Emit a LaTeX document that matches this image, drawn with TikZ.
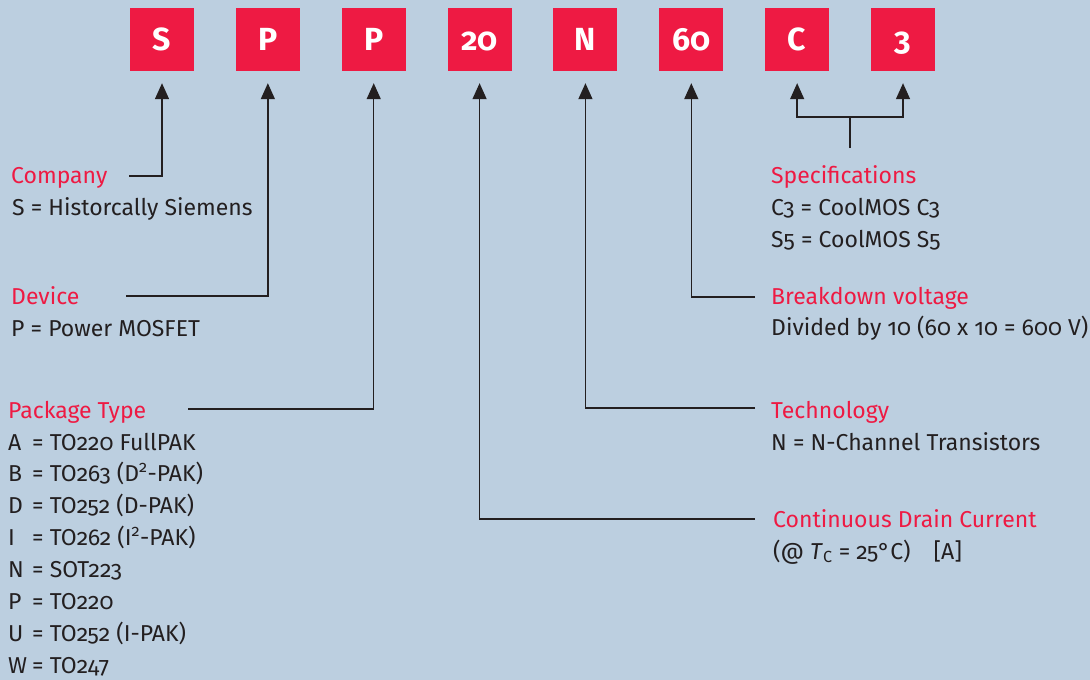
\documentclass[tikz,border=0pt]{standalone}
\usepackage{fontspec}
\setmainfont{Fira Sans}[Numbers=OldStyle]
\usepackage{xcolor}
\usetikzlibrary{calc,arrows.meta}
\definecolor{panel}{HTML}{BCCFE0}
\definecolor{infred}{HTML}{EE1A43}
\definecolor{ink}{HTML}{231F20}
\newcommand{\kcode}[1]{\makebox[24pt][l]{#1}}
\tikzset{
  letterbox/.style={fill=infred, text=white, minimum width=64pt, minimum height=63pt,
                    inner sep=0pt, text height=22.7pt, text depth=0pt,
                    font=\fontsize{32}{32}\selectfont\bfseries},
  head/.style={anchor=base west, inner sep=0pt, text=infred, font=\fontsize{23}{32}\selectfont},
  entry/.style={anchor=base west, inner sep=0pt, text=ink, font=\fontsize{23}{32}\selectfont},
  lead/.style={draw=ink, line width=1.5pt},
  pin/.style={lead, -{Triangle[length=16pt,width=14pt]}, shorten >=12pt}
}
\begin{document}
\begin{tikzpicture}[x=1pt, y=-1pt]
\fill[panel] (0,0) rectangle (1090,680);
\useasboundingbox (0,0) rectangle (1090,680);
\foreach \k/\t in {1/S,2/P,3/P,4/20,5/N,6/60,7/C,8/3}
  \node[letterbox] (b\k) at (162+105.86*\k-105.86, 39.5) {\t};
%\foreach \k in {1,...,8} \draw[red] (b\k.south) -- ++(0,20);

% left column
\node[head] (company) at (11,183) {Company};
\node[entry] (company-txt) at (12,215) {S = Historcally Siemens};
\node[head] (device) at (11,304) {Device};
\node[entry] (device-txt) at (11,336) {P = Power MOSFET};
\node[head] (package) at (8,418) {Package Type};
\foreach \k/\t in {0/{\kcode{A}= TO220 FullPAK},
                   1/{\kcode{B}= TO263 (D\textsuperscript{2}-PAK)},
                   2/{\kcode{D}= TO252 (D-PAK)},
                   3/{\kcode{I}= TO262 (I\textsuperscript{2}-PAK)},
                   4/{\kcode{N}= SOT223},
                   5/{\kcode{P}= TO220},
                   6/{\kcode{U}= TO252 (I-PAK)},
                   7/{\kcode{W}= TO247}}
  \node[entry] (package-\k) at (8,450+31.9*\k) {\t};

% right column
\node[head] (spec) at (771,183) {Specifications};
\node[entry] (spec-c) at (771,215) {C3 = CoolMOS C3};
\node[entry] (spec-s) at (771,247) {S5 = CoolMOS S5};
\node[head] (breakdown) at (771,304) {Breakdown voltage};
\node[entry] (breakdown-txt) at (771,335) {Divided by 10 (60 x 10 = 600 V)};
\node[head] (techno) at (771,418) {Technology};
\node[entry] (techno-txt) at (771,450) {N = N-Channel Transistors};
\node[head] (current) at (773,527) {Continuous Drain Current};
\node[entry] (current-txt) at (773,559) {(@ \textit{T}\textsubscript{C} = 25°C)\quad[A]};

% leads
\coordinate (company-lead) at (129,176);
\coordinate (device-lead) at (126,296);
\coordinate (package-lead) at (188,409);
\coordinate (current-lead) at (755,519);
\coordinate (techno-lead) at (755,408);
\coordinate (breakdown-lead) at (755,297);
\coordinate (spec-lead) at (850,148);
\coordinate (spec-fork) at (850,117);
\draw[pin] (company-lead) -| (b1);
\draw[pin] (device-lead) -| (b2);
\draw[pin] (package-lead) -| (b3);
\draw[pin] (current-lead) -| (b4);
\draw[pin] (techno-lead) -| (b5);
\draw[pin] (breakdown-lead) -| (b6);
\draw[lead] (spec-lead) -- (spec-fork);
\draw[pin] (spec-fork) -| (b7);
\draw[pin] (spec-fork) -| (b8);
\end{tikzpicture}
\end{document}
